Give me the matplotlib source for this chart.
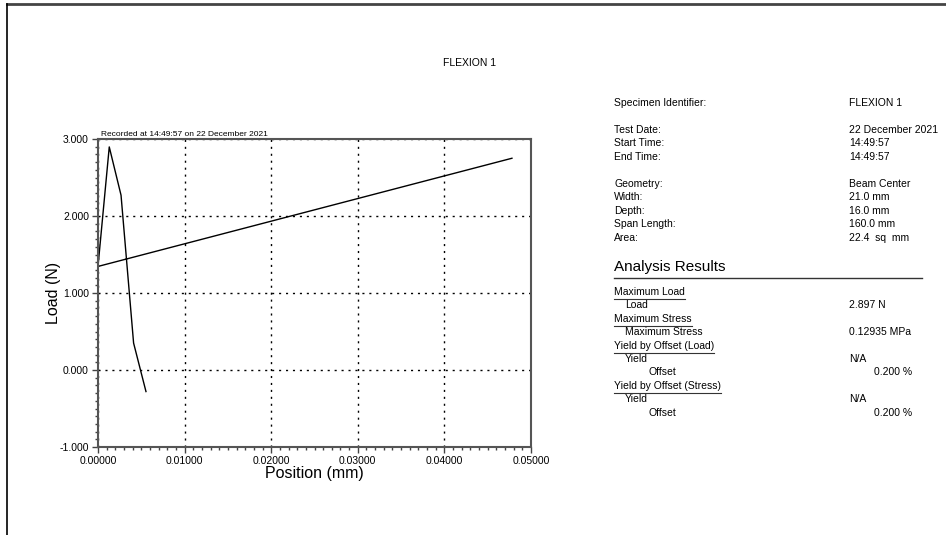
import numpy as np
import matplotlib.pyplot as plt
from matplotlib.lines import Line2D
from matplotlib.ticker import MultipleLocator, FormatStrFormatter

plt.rcParams['font.family'] = ['Liberation Sans', 'DejaVu Sans']

W, H = 946, 535

# load / position trace as exported by the test frame
position = [0.04780, 0.00000, 0.00130, 0.00266, 0.00411, 0.00554]
load = [2.750, 1.345, 2.897, 2.270, 0.350, -0.280]

x_ticks = [0.0, 0.01, 0.02, 0.03, 0.04, 0.05]
y_ticks = [-1.0, 0.0, 1.0, 2.0, 3.0]

specimen_rows = [
    ("Specimen Identifier:", "FLEXION 1", 103),
    ("Test Date:", "22 December 2021", 130),
    ("Start Time:", "14:49:57", 143),
    ("End Time:", "14:49:57", 157),
    ("Geometry:", "Beam Center", 184),
    ("Width:", "21.0 mm", 197),
    ("Depth:", "16.0 mm", 211),
    ("Span Length:", "160.0 mm", 224),
    ("Area:", "22.4  sq  mm", 238),
]

# (label, indent level, value, right-aligned value, y)
result_rows = [
    ("Maximum Load", 0, "", False, 292),
    ("Load", 1, "2.897 N", False, 305),
    ("Maximum Stress", 0, "", False, 319),
    ("Maximum Stress", 1, "0.12935 MPa", False, 332),
    ("Yield by Offset (Load)", 0, "", False, 346),
    ("Yield", 1, "N/A", False, 359),
    ("Offset", 2, "0.200 %", True, 372),
    ("Yield by Offset (Stress)", 0, "", False, 386),
    ("Yield", 1, "N/A", False, 399),
    ("Offset", 2, "0.200 %", True, 413),
]


def px(x, y):
    return x / W, 1 - y / H


fig = plt.figure(figsize=(W / 100, H / 100), dpi=100)

# page frame
fig.add_artist(Line2D([7 / W, 1], [1 - 4 / H, 1 - 4 / H], color='#444444', lw=2))
fig.add_artist(Line2D([7 / W, 7 / W], [0, 1 - 4 / H], color='black', lw=1.2))

ax = fig.add_axes([98 / W, 1 - 447 / H, (531 - 98) / W, (447 - 139) / H])
ax.plot(position, load, color='black', lw=1.0)

ax.set_xlim(0, 0.05)
ax.set_ylim(-1, 3)
ax.set_xticks(x_ticks)
ax.set_yticks(y_ticks)
ax.xaxis.set_major_formatter(FormatStrFormatter('%.5f'))
ax.yaxis.set_major_formatter(FormatStrFormatter('%.3f'))
ax.xaxis.set_minor_locator(MultipleLocator(0.001))
ax.yaxis.set_minor_locator(MultipleLocator(0.1))
ax.tick_params(which='major', direction='out', length=4, width=1, color='#444444',
               labelsize=7.5, pad=2.5)
ax.tick_params(which='minor', direction='out', length=2.5, width=1, color='#444444')
ax.grid(True, which='major', color='black', linestyle=(0, (1.5, 3.5)), lw=1)
for s in ax.spines.values():
    s.set_color('#555555')
    s.set_linewidth(1.5)

ax.set_xlabel('Position (mm)', fontsize=11.5, labelpad=0)
ax.set_ylabel('Load (N)', fontsize=11.5, labelpad=-1)
ax.text(0.007, 1.003, 'Recorded at 14:49:57 on 22 December 2021', transform=ax.transAxes,
        fontsize=6, va='bottom', ha='left')

fig.text(*px(470, 63), 'FLEXION 1', fontsize=7.5, ha='center', va='center')

for label, value, y in specimen_rows:
    fig.text(*px(614, y), label, fontsize=7.5, va='center')
    fig.text(*px(849, y), value, fontsize=7.5, va='center')

fig.text(*px(614, 267), 'Analysis Results', fontsize=11, va='center')
fig.add_artist(Line2D([614 / W, 922 / W], [1 - 278 / H] * 2, color='#333333', lw=1))

headers = []
for label, level, value, right, y in result_rows:
    x0 = [614, 625, 648][level]
    t = fig.text(*px(x0, y), label, fontsize=7.5, va='center')
    if level == 0:
        headers.append((t, y))
    if value:
        if right:
            fig.text(*px(912, y), value, fontsize=7.5, va='center', ha='right')
        else:
            fig.text(*px(849, y), value, fontsize=7.5, va='center')

# underline the section headers
fig.canvas.draw()
renderer = fig.canvas.get_renderer()
for t, y in headers:
    bb = t.get_window_extent(renderer)
    yl = 1 - (y + 6.5) / H
    fig.add_artist(Line2D([bb.x0 / W, bb.x1 / W], [yl, yl], color='#333333', lw=0.8))

fig.savefig('out.png', dpi=100)
